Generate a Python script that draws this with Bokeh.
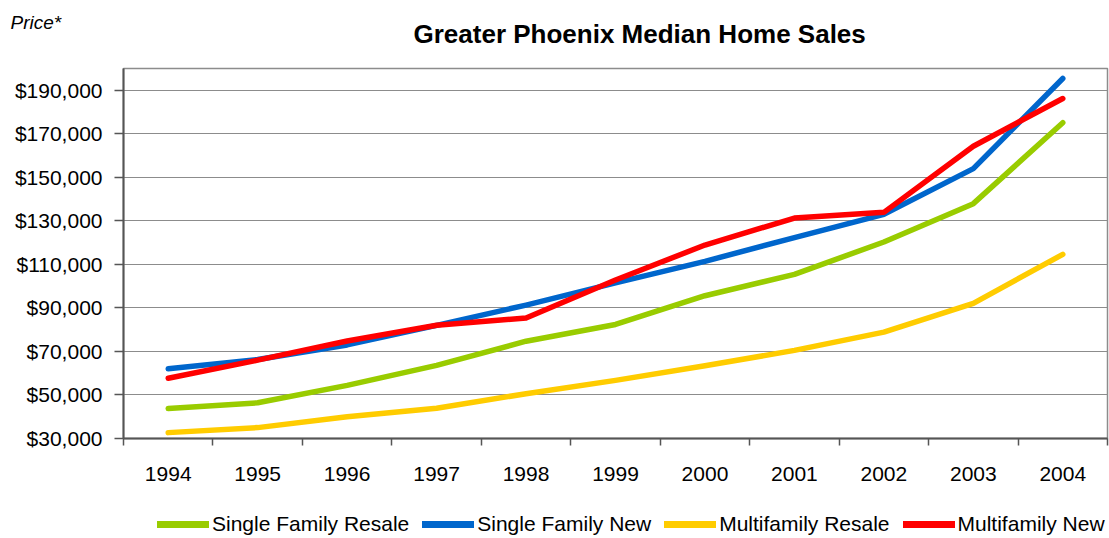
from bokeh.plotting import figure
from bokeh.layouts import column
from bokeh.models import (FixedTicker, NumeralTickFormatter, Legend,
                          LegendItem, Range1d, Title)
from bokeh.embed import file_html
from bokeh.resources import INLINE

years = [1994, 1995, 1996, 1997, 1998, 1999, 2000, 2001, 2002, 2003, 2004]
sf_resale = [43800, 46400, 54400, 63600, 74700, 82400, 95600, 105400, 120300, 137900, 175100]
sf_new = [62000, 66300, 73000, 82000, 91300, 101500, 111400, 122300, 133000, 154000, 195400]
mf_resale = [32700, 35000, 40000, 43900, 50600, 56700, 63400, 70500, 78900, 92100, 114600]
mf_new = [57700, 66000, 74800, 82000, 85400, 102800, 118900, 131300, 133900, 164300, 186200]

series_names = ["Single Family Resale", "Single Family New", "Multifamily Resale", "Multifamily New"]
series_values = [sf_resale, sf_new, mf_resale, mf_new]
series_colors = ["#99CC00", "#0066CC", "#FFCC00", "#FF0000"]

y_ticks = [30000, 50000, 70000, 90000, 110000, 130000, 150000, 170000, 190000]

FONT = "Liberation Sans"
LINE_W = 5.5

p = figure(width=1109, height=500, output_backend="svg", toolbar_location=None,
           min_border_left=123, min_border_right=2, min_border_top=68, min_border_bottom=62,
           x_range=Range1d(years[0] - 0.5, years[-1] + 0.5),
           y_range=Range1d(30000, 200000))
p.background_fill_color = "white"
p.border_fill_color = "white"
p.outline_line_color = "#8C8C8C"
p.outline_line_width = 1.5

# x axis: labels at year centres, tick marks at category boundaries
p.xaxis.ticker = FixedTicker(ticks=years,
                             minor_ticks=[y - 0.5 for y in years] + [years[-1] + 0.5])
p.xaxis.major_tick_out = 0
p.xaxis.major_tick_in = 0
p.xaxis.minor_tick_out = 7
p.xaxis.minor_tick_in = 0
p.xaxis.major_label_standoff = 21

p.yaxis.ticker = FixedTicker(ticks=y_ticks)
p.yaxis.formatter = NumeralTickFormatter(format="$0,0")
p.yaxis.major_tick_out = 9
p.yaxis.major_tick_in = 0
p.yaxis.minor_tick_out = 0
p.yaxis.minor_tick_in = 0
p.yaxis.major_label_standoff = 12

for ax in (p.xaxis, p.yaxis):
    ax.axis_line_color = "#555555"
    ax.axis_line_width = 2
    ax.major_tick_line_color = "#555555"
    ax.minor_tick_line_color = "#555555"
    ax.major_tick_line_width = 1.5
    ax.minor_tick_line_width = 1.5
    ax.major_label_text_font = FONT
    ax.major_label_text_font_size = "21px"
    ax.major_label_text_color = "black"

p.xgrid.grid_line_color = None
p.ygrid.grid_line_color = "#8C8C8C"
p.ygrid.grid_line_width = 1.2

for name, vals, col in zip(series_names, series_values, series_colors):
    p.line(years, vals, line_color=col, line_width=LINE_W, line_cap="round",
           line_join="round")

p.add_layout(Title(text="Greater Phoenix Median Home Sales", align="left", offset=290,
                   text_font=FONT, text_font_style="bold", text_font_size="26px",
                   vertical_align="top", standoff=36, text_color="black"), "above")
p.add_layout(Title(text="Price*", align="left", offset=-113,
                   text_font=FONT, text_font_style="italic", text_font_size="19px",
                   vertical_align="bottom", standoff=-64, text_color="black"), "above")

# legend strip below the chart (its lines lie outside its view; only the legend shows)
p2 = figure(width=1109, height=38, output_backend="svg", toolbar_location=None,
            min_border=0, x_axis_location=None, y_axis_location=None,
            x_range=p.x_range, y_range=Range1d(0, 1))
p2.outline_line_color = None
p2.grid.grid_line_color = None
p2.background_fill_color = "white"
p2.border_fill_color = "white"
items = []
for name, vals, col in zip(series_names, series_values, series_colors):
    r = p2.line(years, vals, line_color=col, line_width=LINE_W + 1.5, line_cap="round")
    items.append(LegendItem(label=name, renderers=[r]))
legend = Legend(items=items, orientation="horizontal", location=(34, 2),
                label_text_font=FONT, label_text_font_size="21px",
                label_text_color="black",
                glyph_width=52, glyph_height=20, label_standoff=3, spacing=13,
                padding=0, margin=0, border_line_color=None,
                background_fill_alpha=0)
p2.add_layout(legend, "center")

layout = column(p, p2, spacing=0)
open("out.html", "w").write(file_html(layout, INLINE))
